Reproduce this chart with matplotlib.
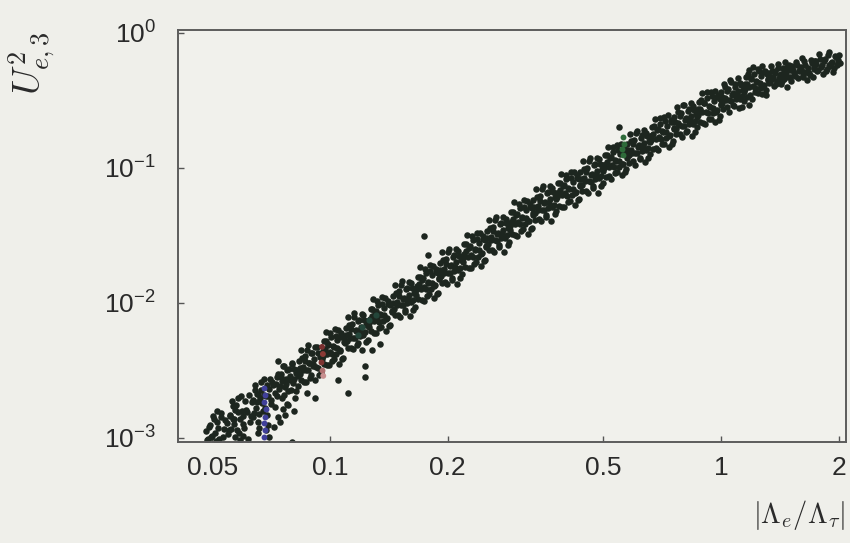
import matplotlib.pyplot as plt

plt.rcParams['font.family'] = ['Liberation Sans', 'DejaVu Sans']

# scan points: |Lambda_e/Lambda_tau| vs U_e3^2 (one line per slice along the band)
lam_ratio = [
    0.0482, 0.0488, 0.0495, 0.0501, 0.0507, 0.0512, 0.0519, 0.0526, 0.0533, 0.0545,
    0.0552, 0.0556, 0.0561, 0.0566, 0.0570, 0.0575, 0.0581, 0.0587, 0.0593, 0.0598, 0.0604, 0.0611, 0.0618, 0.0626,
    0.0633, 0.0637, 0.0642, 0.0647, 0.0652, 0.0657, 0.0663, 0.0668, 0.0674, 0.0679, 0.0686, 0.0692, 0.0699, 0.0706, 0.0712, 0.0719, 0.0655, 0.0688, 0.0701,
    0.0726, 0.0731, 0.0737, 0.0742, 0.0748, 0.0754, 0.0759, 0.0765, 0.0771, 0.0777, 0.0783, 0.0789, 0.0795, 0.0801, 0.0808, 0.0815, 0.0821, 0.0829, 0.0745, 0.0768, 0.0802, 0.0811,
    0.0835, 0.0841, 0.0846, 0.0852, 0.0858, 0.0865, 0.0871, 0.0877, 0.0884, 0.0890, 0.0897, 0.0904, 0.0911, 0.0918, 0.0926, 0.0933, 0.0941, 0.0950, 0.0915, 0.0872,
    0.0958, 0.0964, 0.0971, 0.0978, 0.0985, 0.0992, 0.0999, 0.1007, 0.1015, 0.1022, 0.1030, 0.1038, 0.1046, 0.1054, 0.1063, 0.1071, 0.1080, 0.1090, 0.1110, 0.1050,
    0.1099, 0.1106, 0.1114, 0.1122, 0.1130, 0.1139, 0.1147, 0.1156, 0.1165, 0.1173, 0.1182, 0.1191, 0.1201, 0.1210, 0.1219, 0.1229, 0.1240, 0.1252, 0.1230, 0.1228,
    0.1262, 0.1271, 0.1280, 0.1290, 0.1299, 0.1309, 0.1318, 0.1328, 0.1338, 0.1348, 0.1358, 0.1368, 0.1379, 0.1390, 0.1401, 0.1412, 0.1423, 0.1438, 0.1280, 0.1340,
    0.1449, 0.1460, 0.1471, 0.1482, 0.1494, 0.1505, 0.1517, 0.1529, 0.1541, 0.1553, 0.1565, 0.1577, 0.1590, 0.1602, 0.1615, 0.1628, 0.1641, 0.1655,
    0.1664, 0.1677, 0.1690, 0.1703, 0.1716, 0.1730, 0.1743, 0.1757, 0.1771, 0.1785, 0.1799, 0.1813, 0.1828, 0.1843, 0.1858, 0.1873, 0.1888, 0.1900, 0.1740, 0.1780,
    0.1909, 0.1924, 0.1939, 0.1954, 0.1970, 0.1985, 0.2001, 0.2017, 0.2033, 0.2049, 0.2066, 0.2082, 0.2099, 0.2116, 0.2133, 0.2150, 0.2167, 0.2183,
    0.2192, 0.2209, 0.2227, 0.2245, 0.2263, 0.2281, 0.2299, 0.2318, 0.2336, 0.2355, 0.2374, 0.2393, 0.2412, 0.2431, 0.2451, 0.2471, 0.2490, 0.2507,
    0.2516, 0.2536, 0.2556, 0.2577, 0.2597, 0.2618, 0.2639, 0.2660, 0.2682, 0.2703, 0.2725, 0.2747, 0.2769, 0.2791, 0.2814, 0.2836, 0.2859, 0.2878,
    0.2889, 0.2912, 0.2935, 0.2959, 0.2983, 0.3007, 0.3031, 0.3055, 0.3080, 0.3104, 0.3129, 0.3154, 0.3180, 0.3205, 0.3231, 0.3257, 0.3283, 0.3305,
    0.3316, 0.3343, 0.3370, 0.3397, 0.3424, 0.3452, 0.3480, 0.3508, 0.3536, 0.3565, 0.3593, 0.3622, 0.3651, 0.3681, 0.3710, 0.3740, 0.3770, 0.3795,
    0.3807, 0.3838, 0.3869, 0.3900, 0.3931, 0.3963, 0.3995, 0.4027, 0.4060, 0.4093, 0.4126, 0.4159, 0.4192, 0.4226, 0.4260, 0.4294, 0.4329, 0.4358,
    0.4371, 0.4406, 0.4442, 0.4477, 0.4514, 0.4550, 0.4587, 0.4624, 0.4661, 0.4699, 0.4737, 0.4775, 0.4814, 0.4853, 0.4892, 0.4931, 0.4971, 0.5004,
    0.5018, 0.5058, 0.5099, 0.5140, 0.5181, 0.5223, 0.5265, 0.5308, 0.5351, 0.5394, 0.5438, 0.5482, 0.5526, 0.5571, 0.5616, 0.5662, 0.5708, 0.5746, 0.548,
    0.5762, 0.5808, 0.5855, 0.5902, 0.5950, 0.5998, 0.6047, 0.6096, 0.6145, 0.6195, 0.6245, 0.6296, 0.6347, 0.6398, 0.6450, 0.6502, 0.6555, 0.6598,
    0.6615, 0.6669, 0.6723, 0.6777, 0.6832, 0.6887, 0.6943, 0.6999, 0.7056, 0.7113, 0.7170, 0.7228, 0.7287, 0.7346, 0.7405, 0.7465, 0.7525, 0.7576,
    0.7595, 0.7656, 0.7718, 0.7781, 0.7844, 0.7907, 0.7971, 0.8036, 0.8101, 0.8166, 0.8232, 0.8299, 0.8366, 0.8434, 0.8502, 0.8571, 0.8640, 0.8699,
    0.8721, 0.8791, 0.8862, 0.8934, 0.9006, 0.9079, 0.9153, 0.9227, 0.9301, 0.9377, 0.9453, 0.9529, 0.9606, 0.9684, 0.9762, 0.9841, 0.9921, 0.9988,
    1.0013, 1.0094, 1.0176, 1.0258, 1.0341, 1.0425, 1.0509, 1.0594, 1.0680, 1.0766, 1.0853, 1.0941, 1.1030, 1.1119, 1.1209, 1.1300, 1.1391, 1.1468,
    1.1495, 1.1588, 1.1682, 1.1776, 1.1871, 1.1967, 1.2064, 1.2161, 1.2260, 1.2359, 1.2459, 1.2560, 1.2661, 1.2764, 1.2867, 1.2971, 1.3076, 1.3165, 1.18,
    1.3196, 1.3312, 1.3429, 1.3547, 1.3666, 1.3786, 1.3907, 1.4029, 1.4152, 1.4276, 1.4401, 1.4528, 1.4655, 1.4784, 1.4914, 1.5045, 1.46,
    1.5188, 1.5362, 1.5538, 1.5716, 1.5896, 1.6078, 1.6262, 1.6448, 1.6636, 1.6826, 1.7018, 1.7212, 1.7330,
    1.7432, 1.7635, 1.7840, 1.8048, 1.8258, 1.8470, 1.8685, 1.8903, 1.9123, 1.9345, 1.9570, 1.9798, 1.9970, 2.0120,
]
u_e3_sq = [
    0.00112, 0.00098, 0.00125, 0.00104, 0.00137, 0.00095, 0.00118, 0.00142, 0.00101, 0.00128,
    0.00115, 0.00149, 0.00188, 0.00139, 0.00127, 0.00176, 0.00156, 0.00108, 0.00203, 0.00145, 0.00119, 0.00162, 0.00098, 0.00131,
    0.00185, 0.00142, 0.00247, 0.00168, 0.00212, 0.00131, 0.00196, 0.00226, 0.00158, 0.00274, 0.00204, 0.00149, 0.00231, 0.00178, 0.00258, 0.00121, 0.00108, 0.00115, 0.00102,
    0.00216, 0.00283, 0.00371, 0.00232, 0.00295, 0.00264, 0.00338, 0.00207, 0.00251, 0.00318, 0.00174, 0.00289, 0.00226, 0.00352, 0.00275, 0.00198, 0.00302, 0.00241, 0.00131, 0.00147, 0.00094, 0.00158,
    0.00372, 0.00298, 0.00451, 0.00336, 0.00259, 0.00404, 0.00317, 0.00489, 0.00356, 0.00276, 0.00423, 0.00341, 0.00385, 0.00268, 0.00468, 0.00329, 0.00395, 0.00305, 0.00197, 0.00215,
    0.00402, 0.00526, 0.00459, 0.00612, 0.00348, 0.00498, 0.00436, 0.00557, 0.00371, 0.00469, 0.00642, 0.00418, 0.00531, 0.00355, 0.00447, 0.00594, 0.00389, 0.00512, 0.00215, 0.00268,
    0.00652, 0.00519, 0.00788, 0.00588, 0.00462, 0.00701, 0.00553, 0.00846, 0.00617, 0.00486, 0.00735, 0.00572, 0.00663, 0.00451, 0.00812, 0.00604, 0.00689, 0.00531, 0.00342, 0.00281,
    0.00712, 0.00904, 0.00795, 0.01061, 0.00602, 0.00873, 0.00754, 0.00962, 0.00648, 0.00812, 0.01096, 0.00731, 0.00921, 0.00621, 0.00775, 0.01032, 0.00687, 0.00858, 0.00450, 0.00500,
    0.01131, 0.00905, 0.01362, 0.01022, 0.00819, 0.01214, 0.00963, 0.01441, 0.01071, 0.00854, 0.01268, 0.00994, 0.01152, 0.00793, 0.01395, 0.01048, 0.01189, 0.00938,
    0.01237, 0.01567, 0.01382, 0.01838, 0.01046, 0.01519, 0.01311, 0.01671, 0.01126, 0.01412, 0.01899, 0.01269, 0.01601, 0.01079, 0.01347, 0.01795, 0.01193, 0.01491, 0.0313, 0.0226,
    0.01965, 0.01572, 0.02366, 0.01775, 0.01422, 0.02110, 0.01672, 0.02503, 0.01861, 0.01484, 0.02202, 0.01728, 0.02002, 0.01379, 0.02422, 0.01821, 0.02065, 0.01630,
    0.02149, 0.02722, 0.02401, 0.03193, 0.01818, 0.02639, 0.02278, 0.02903, 0.01956, 0.02453, 0.03300, 0.02204, 0.02782, 0.01875, 0.02340, 0.03119, 0.02073, 0.02591,
    0.03416, 0.02733, 0.04112, 0.03085, 0.02472, 0.03667, 0.02906, 0.04350, 0.03234, 0.02579, 0.03827, 0.03003, 0.03479, 0.02396, 0.04209, 0.03165, 0.03588, 0.02833,
    0.03734, 0.04730, 0.04172, 0.05549, 0.03159, 0.04586, 0.03959, 0.05045, 0.03400, 0.04263, 0.05734, 0.03831, 0.04834, 0.03259, 0.04067, 0.05421, 0.03603, 0.04503,
    0.05763, 0.04611, 0.06938, 0.05205, 0.04171, 0.06187, 0.04903, 0.07339, 0.05456, 0.04352, 0.06457, 0.05067, 0.05869, 0.04043, 0.07102, 0.05339, 0.06054, 0.04779,
    0.06092, 0.07717, 0.06806, 0.09053, 0.05154, 0.07481, 0.06459, 0.08231, 0.05548, 0.06955, 0.09355, 0.06250, 0.07887, 0.05317, 0.06635, 0.08844, 0.05878, 0.07346,
    0.09352, 0.07483, 0.1126, 0.08447, 0.06769, 0.1004, 0.07957, 0.1191, 0.08854, 0.07063, 0.1048, 0.08223, 0.09524, 0.06561, 0.1153, 0.08665, 0.09825, 0.07756,
    0.0996, 0.1236, 0.1099, 0.1428, 0.0863, 0.1203, 0.1047, 0.1312, 0.0918, 0.1127, 0.1463, 0.1019, 0.1259, 0.0884, 0.1071, 0.1392, 0.0972, 0.1186, 0.200,
    0.1510, 0.1237, 0.1772, 0.1363, 0.1125, 0.1603, 0.1297, 0.1862, 0.1434, 0.1169, 0.1670, 0.1333, 0.1531, 0.1099, 0.1818, 0.1399, 0.1573, 0.1268,
    0.1615, 0.2003, 0.1782, 0.2315, 0.1400, 0.1950, 0.1698, 0.2127, 0.1489, 0.1826, 0.2371, 0.1652, 0.2041, 0.1432, 0.1736, 0.2257, 0.1575, 0.1923,
    0.2383, 0.1951, 0.2796, 0.2150, 0.1774, 0.2528, 0.2046, 0.2937, 0.2262, 0.1844, 0.2635, 0.2103, 0.2415, 0.1734, 0.2868, 0.2207, 0.2481, 0.2000,
    0.2478, 0.3074, 0.2735, 0.3554, 0.2149, 0.2993, 0.2606, 0.3265, 0.2285, 0.2803, 0.3640, 0.2535, 0.3132, 0.2198, 0.2664, 0.3465, 0.2418, 0.2953,
    0.3637, 0.3037, 0.4171, 0.3287, 0.2833, 0.3840, 0.3151, 0.4330, 0.3475, 0.2920, 0.3985, 0.3245, 0.3687, 0.2781, 0.4245, 0.3389, 0.3772, 0.3103,
    0.3844, 0.4673, 0.4198, 0.5259, 0.3445, 0.4567, 0.4020, 0.4937, 0.3617, 0.4305, 0.5364, 0.3903, 0.4757, 0.3510, 0.4072, 0.5167, 0.3762, 0.4506, 0.293,
    0.5031, 0.4268, 0.5643, 0.4560, 0.4011, 0.5238, 0.4406, 0.5862, 0.4850, 0.4142, 0.5467, 0.4508, 0.5102, 0.3955, 0.5745, 0.4712, 0.61,
    0.5655, 0.5002, 0.6059, 0.4594, 0.5381, 0.6497, 0.4889, 0.5807, 0.4449, 0.5049, 0.6251, 0.4731, 0.5578,
    0.6184, 0.5246, 0.6924, 0.5602, 0.4954, 0.6437, 0.5430, 0.7183, 0.5970, 0.5106, 0.6705, 0.5803, 0.6286, 0.6012,
]

# second batch of scan points filling the same band
lam_ratio_b = [
    0.0485, 0.0490, 0.0497, 0.0503, 0.0509, 0.0515, 0.0521, 0.0528, 0.0536, 0.0541, 0.0548, 0.0514,
    0.0554, 0.0559, 0.0564, 0.0568, 0.0573, 0.0578, 0.0584, 0.0590, 0.0596, 0.0601, 0.0608, 0.0615, 0.0622, 0.0629, 0.0572, 0.0601, 0.0588,
    0.0635, 0.0640, 0.0645, 0.0650, 0.0655, 0.0660, 0.0666, 0.0671, 0.0677, 0.0683, 0.0689, 0.0696, 0.0703, 0.0709, 0.0716, 0.0722, 0.0660, 0.0695,
    0.0728, 0.0734, 0.0739, 0.0745, 0.0751, 0.0756, 0.0762, 0.0768, 0.0774, 0.0780, 0.0786, 0.0792, 0.0798, 0.0805, 0.0812, 0.0818, 0.0825, 0.0831, 0.0735, 0.0757, 0.0778,
    0.0838, 0.0843, 0.0849, 0.0855, 0.0862, 0.0868, 0.0874, 0.0881, 0.0887, 0.0894, 0.0901, 0.0908, 0.0915, 0.0922, 0.0930, 0.0937, 0.0945, 0.0953,
    0.0961, 0.0968, 0.0975, 0.0982, 0.0989, 0.0996, 0.1003, 0.1011, 0.1019, 0.1026, 0.1034, 0.1042, 0.1050, 0.1059, 0.1067, 0.1076, 0.1085, 0.1093,
    0.1102, 0.1110, 0.1118, 0.1126, 0.1135, 0.1143, 0.1152, 0.1160, 0.1169, 0.1178, 0.1187, 0.1196, 0.1205, 0.1215, 0.1224, 0.1234, 0.1245, 0.1256,
    0.1266, 0.1275, 0.1285, 0.1294, 0.1304, 0.1313, 0.1323, 0.1333, 0.1343, 0.1353, 0.1363, 0.1374, 0.1384, 0.1395, 0.1406, 0.1417, 0.1429, 0.1441,
    0.1454, 0.1465, 0.1476, 0.1488, 0.1499, 0.1511, 0.1523, 0.1535, 0.1547, 0.1559, 0.1571, 0.1583, 0.1596, 0.1608, 0.1621, 0.1634, 0.1648, 0.1658,
    0.1670, 0.1683, 0.1696, 0.1709, 0.1723, 0.1736, 0.1750, 0.1764, 0.1778, 0.1792, 0.1806, 0.1820, 0.1835, 0.1850, 0.1865, 0.1880, 0.1894, 0.1903,
    0.1916, 0.1931, 0.1946, 0.1962, 0.1977, 0.1993, 0.2009, 0.2025, 0.2041, 0.2057, 0.2074, 0.2090, 0.2107, 0.2124, 0.2141, 0.2158, 0.2175, 0.2186,
    0.2200, 0.2218, 0.2236, 0.2254, 0.2272, 0.2290, 0.2308, 0.2327, 0.2345, 0.2364, 0.2383, 0.2402, 0.2421, 0.2441, 0.2461, 0.2480, 0.2498, 0.2510,
    0.2526, 0.2546, 0.2566, 0.2587, 0.2607, 0.2628, 0.2649, 0.2671, 0.2692, 0.2714, 0.2736, 0.2758, 0.2780, 0.2802, 0.2825, 0.2847, 0.2868, 0.2881,
    0.2900, 0.2923, 0.2947, 0.2971, 0.2995, 0.3019, 0.3043, 0.3067, 0.3092, 0.3117, 0.3142, 0.3167, 0.3192, 0.3218, 0.3244, 0.3270, 0.3294, 0.3308,
    0.3329, 0.3356, 0.3383, 0.3410, 0.3438, 0.3466, 0.3494, 0.3522, 0.3550, 0.3579, 0.3608, 0.3637, 0.3666, 0.3695, 0.3725, 0.3755, 0.3782, 0.3798,
    0.3822, 0.3853, 0.3884, 0.3915, 0.3947, 0.3979, 0.4011, 0.4043, 0.4076, 0.4109, 0.4142, 0.4175, 0.4209, 0.4243, 0.4277, 0.4311, 0.4343, 0.4362,
    0.4388, 0.4424, 0.4459, 0.4495, 0.4532, 0.4568, 0.4605, 0.4642, 0.4680, 0.4718, 0.4756, 0.4794, 0.4833, 0.4872, 0.4911, 0.4951, 0.4988, 0.5008,
    0.5038, 0.5078, 0.5119, 0.5160, 0.5202, 0.5244, 0.5286, 0.5329, 0.5372, 0.5416, 0.5460, 0.5504, 0.5548, 0.5593, 0.5639, 0.5685, 0.5727, 0.5750,
    0.5785, 0.5831, 0.5878, 0.5926, 0.5974, 0.6022, 0.6071, 0.6120, 0.6170, 0.6220, 0.6270, 0.6321, 0.6372, 0.6424, 0.6476, 0.6528, 0.6577, 0.6603,
    0.6642, 0.6696, 0.6750, 0.6805, 0.6860, 0.6915, 0.6971, 0.7028, 0.7085, 0.7142, 0.7199, 0.7258, 0.7317, 0.7376, 0.7435, 0.7495, 0.7551, 0.7581,
    0.7626, 0.7687, 0.7750, 0.7812, 0.7875, 0.7939, 0.8003, 0.8068, 0.8133, 0.8199, 0.8266, 0.8332, 0.8400, 0.8468, 0.8536, 0.8605, 0.8670, 0.8705,
    0.8756, 0.8827, 0.8898, 0.8970, 0.9043, 0.9116, 0.9190, 0.9264, 0.9339, 0.9415, 0.9491, 0.9568, 0.9645, 0.9723, 0.9802, 0.9881, 0.9955, 0.9995,
    1.0054, 1.0135, 1.0217, 1.0300, 1.0383, 1.0467, 1.0552, 1.0637, 1.0723, 1.0810, 1.0897, 1.0986, 1.1074, 1.1164, 1.1254, 1.1346, 1.1430, 1.1480,
    1.1541, 1.1635, 1.1729, 1.1824, 1.1919, 1.2016, 1.2113, 1.2211, 1.2310, 1.2409, 1.2510, 1.2611, 1.2713, 1.2816, 1.2919, 1.3024, 1.3120, 1.3180,
    1.3254, 1.3370, 1.3488, 1.3606, 1.3726, 1.3846, 1.3968, 1.4090, 1.4214, 1.4338, 1.4464, 1.4591, 1.4719, 1.4849, 1.4979, 1.5100,
    1.5275, 1.5450, 1.5627, 1.5806, 1.5987, 1.6170, 1.6355, 1.6542, 1.6731, 1.6922, 1.7115, 1.7271, 1.7360, 1.6100,
    1.7533, 1.7737, 1.7944, 1.8153, 1.8364, 1.8577, 1.8794, 1.9013, 1.9234, 1.9457, 1.9684, 1.9884, 2.0050, 1.8900,
]
u_e3_sq_b = [
    0.00096, 0.00121, 0.00102, 0.00146, 0.00109, 0.00131, 0.00099, 0.00152, 0.00116, 0.00135, 0.00107, 0.00159,
    0.00145, 0.00117, 0.00172, 0.00139, 0.00162, 0.00114, 0.00197, 0.00138, 0.00158, 0.00127, 0.00187, 0.00155, 0.00207, 0.00146, 0.00101, 0.00104, 0.00096,
    0.00191, 0.00154, 0.00226, 0.00183, 0.00213, 0.00150, 0.00259, 0.00182, 0.00208, 0.00168, 0.00246, 0.00204, 0.00273, 0.00192, 0.00245, 0.00169, 0.00118, 0.00125,
    0.00252, 0.00203, 0.00298, 0.00241, 0.00281, 0.00198, 0.00341, 0.00240, 0.00274, 0.00221, 0.00325, 0.00268, 0.00360, 0.00253, 0.00324, 0.00222, 0.00319, 0.00289, 0.00142, 0.00165, 0.00178,
    0.00332, 0.00268, 0.00393, 0.00318, 0.00371, 0.00261, 0.00450, 0.00317, 0.00361, 0.00292, 0.00429, 0.00354, 0.00475, 0.00334, 0.00427, 0.00294, 0.00421, 0.00382,
    0.00438, 0.00353, 0.00519, 0.00419, 0.00490, 0.00344, 0.00594, 0.00418, 0.00476, 0.00385, 0.00565, 0.00467, 0.00626, 0.00440, 0.00563, 0.00387, 0.00556, 0.00504,
    0.00578, 0.00466, 0.00684, 0.00553, 0.00645, 0.00453, 0.00783, 0.00551, 0.00628, 0.00507, 0.00745, 0.00616, 0.00825, 0.00581, 0.00742, 0.00510, 0.00732, 0.00664,
    0.00761, 0.00614, 0.00901, 0.00728, 0.00850, 0.00598, 0.01032, 0.00726, 0.00828, 0.00668, 0.00982, 0.00811, 0.01087, 0.00765, 0.00978, 0.00672, 0.00965, 0.00875,
    0.01003, 0.00809, 0.01188, 0.00961, 0.01121, 0.00788, 0.01360, 0.00957, 0.01091, 0.00881, 0.01295, 0.01070, 0.01433, 0.01009, 0.01290, 0.00887, 0.01272, 0.01153,
    0.01323, 0.01067, 0.01566, 0.01266, 0.01478, 0.01039, 0.01793, 0.01262, 0.01438, 0.01161, 0.01707, 0.01410, 0.01889, 0.01330, 0.01700, 0.01169, 0.01677, 0.01520,
    0.01743, 0.01406, 0.02063, 0.01668, 0.01948, 0.01369, 0.02363, 0.01663, 0.01896, 0.01531, 0.02249, 0.01858, 0.02489, 0.01752, 0.02240, 0.01540, 0.02210, 0.02004,
    0.02298, 0.01853, 0.02720, 0.02200, 0.02568, 0.01804, 0.03115, 0.02192, 0.02499, 0.02018, 0.02966, 0.02450, 0.03282, 0.02310, 0.02953, 0.02030, 0.02914, 0.02642,
    0.03029, 0.02443, 0.03586, 0.02899, 0.03385, 0.02378, 0.04106, 0.02890, 0.03294, 0.02660, 0.03909, 0.03230, 0.04327, 0.03045, 0.03893, 0.02676, 0.03841, 0.03482,
    0.03993, 0.03221, 0.04727, 0.03822, 0.04462, 0.03136, 0.05414, 0.03810, 0.04343, 0.03507, 0.05153, 0.04257, 0.05704, 0.04014, 0.05132, 0.03528, 0.05064, 0.04590,
    0.05111, 0.04122, 0.06050, 0.04892, 0.05711, 0.04013, 0.06929, 0.04876, 0.05558, 0.04488, 0.06596, 0.05449, 0.07300, 0.05138, 0.06568, 0.04515, 0.06481, 0.05875,
    0.06515, 0.05255, 0.07712, 0.06236, 0.07280, 0.05116, 0.08832, 0.06215, 0.07085, 0.05721, 0.08408, 0.06946, 0.09306, 0.06549, 0.08373, 0.05756, 0.08262, 0.07489,
    0.08293, 0.06689, 0.09817, 0.07939, 0.09268, 0.06512, 0.1124, 0.07912, 0.09019, 0.07283, 0.1070, 0.08842, 0.1185, 0.08337, 0.1066, 0.07327, 0.1052, 0.09533,
    0.1057, 0.0852, 0.1251, 0.1012, 0.1181, 0.0830, 0.1433, 0.1008, 0.1149, 0.0928, 0.1364, 0.1127, 0.1509, 0.1062, 0.1358, 0.0934, 0.1340, 0.1215,
    0.1345, 0.1085, 0.1592, 0.1288, 0.1503, 0.1056, 0.1824, 0.1283, 0.1463, 0.1181, 0.1736, 0.1434, 0.1921, 0.1352, 0.1729, 0.1188, 0.1706, 0.1546,
    0.1713, 0.1382, 0.2028, 0.1640, 0.1914, 0.1345, 0.2322, 0.1634, 0.1863, 0.1504, 0.2211, 0.1826, 0.2447, 0.1722, 0.2201, 0.1513, 0.2172, 0.1969,
    0.2194, 0.1766, 0.2584, 0.2079, 0.2419, 0.1693, 0.2915, 0.2043, 0.2319, 0.1868, 0.2729, 0.2247, 0.2999, 0.2102, 0.2675, 0.1832, 0.2618, 0.2360,
    0.2719, 0.2188, 0.3202, 0.2576, 0.2997, 0.2098, 0.3612, 0.2531, 0.2874, 0.2315, 0.3382, 0.2784, 0.3716, 0.2604, 0.3315, 0.2270, 0.3244, 0.2924,
    0.3368, 0.2710, 0.3966, 0.3190, 0.3712, 0.2599, 0.4474, 0.3135, 0.3559, 0.2867, 0.4189, 0.3448, 0.4603, 0.3225, 0.4105, 0.2811, 0.4018, 0.3622,
    0.4172, 0.3357, 0.4913, 0.3952, 0.4599, 0.3220, 0.5543, 0.3883, 0.4409, 0.3551, 0.5189, 0.4271, 0.5702, 0.3995, 0.5086, 0.3482, 0.4978, 0.4487,
    0.4792, 0.4300, 0.5201, 0.4665, 0.5031, 0.4208, 0.5523, 0.4622, 0.4924, 0.4422, 0.5342, 0.4846, 0.5601, 0.4690, 0.5289, 0.4378,
    0.5314, 0.4768, 0.5767, 0.5173, 0.5578, 0.4666, 0.6124, 0.5125, 0.5459, 0.4903, 0.5924, 0.5373, 0.6210, 0.5200,
    0.5894, 0.5289, 0.6397, 0.5738, 0.6188, 0.5175, 0.6793, 0.5685, 0.6056, 0.5439, 0.6571, 0.5960, 0.6889, 0.5770,
]

# highlighted points
blue_x = [0.0680, 0.0684, 0.0678, 0.0686, 0.0681, 0.0677, 0.0683, 0.0679]
blue_y = [0.00236, 0.00207, 0.00184, 0.00163, 0.00144, 0.00128, 0.00114, 0.00102]
red_x = [0.0955, 0.0960, 0.0952, 0.0958, 0.0962]
red_y = [0.00472, 0.00418, 0.00362, 0.00315, 0.00288]
red_c = ['#7a3030', '#8a3a36', '#7e3432', '#b07070', '#c89090']
green_x = [0.561, 0.566, 0.558, 0.563]
green_y = [0.168, 0.151, 0.137, 0.124]
teal_x = [0.121, 0.126, 0.131, 0.118]
teal_y = [0.0066, 0.0075, 0.0081, 0.0058]

xticks = [0.05, 0.1, 0.2, 0.5, 1, 2]
xtick_labels = ['0.05', '0.1', '0.2', '0.5', '1', '2']
yticks = [1e-3, 1e-2, 1e-1, 1]
ytick_labels = [r'$\mathregular{10^{-3}}$', r'$\mathregular{10^{-2}}$',
                r'$\mathregular{10^{-1}}$', r'$\mathregular{10^{0}}$']

fig = plt.figure(figsize=(8.5, 5.43), dpi=100, facecolor='#efefea')
ax = fig.add_axes([0.2094, 0.186, 0.786, 0.759])
ax.set_facecolor('#f1f1ec')

dot = '#1d261f'
ax.scatter(lam_ratio, u_e3_sq, s=22, c=dot, linewidths=0, zorder=2)
ax.scatter(lam_ratio_b, u_e3_sq_b, s=22, c=dot, linewidths=0, zorder=2)
ax.scatter(teal_x, teal_y, s=20, c='#24463a', linewidths=0, zorder=3)
ax.scatter(blue_x, blue_y, s=18, c='#40409a', linewidths=0, zorder=3)
ax.scatter(red_x, red_y, s=18, c=red_c, linewidths=0, zorder=3)
ax.scatter(green_x, green_y, s=18, c='#2e6b3a', linewidths=0, zorder=3)

ax.set_xscale('log')
ax.set_yscale('log')
ax.set_xlim(0.0409, 2.09)
ax.set_ylim(9.33e-4, 1.05)
ax.set_xticks(xticks)
ax.set_xticklabels(xtick_labels)
ax.set_yticks(yticks)
ax.set_yticklabels(ytick_labels)
ax.minorticks_off()

ax.tick_params(direction='in', length=4, width=1, colors='#555555',
               labelcolor='#2a2a2a', labelsize=19)
ax.tick_params(axis='x', pad=10)
ax.tick_params(axis='y', pad=16)
for sp in ax.spines.values():
    sp.set_color('#5c5c5c')
    sp.set_linewidth(1.4)

fig.text(0.038, 0.884, r'$U^2_{e,3}$', rotation=90, ha='center', va='center',
         fontsize=27, math_fontfamily='cm', color='#2a2a2a')
fig.text(0.940, 0.052, r'$|\Lambda_e/\Lambda_\tau|$', ha='center', va='center',
         fontsize=20.5, math_fontfamily='cm', color='#2a2a2a')

fig.savefig('out.png', dpi=100, facecolor=fig.get_facecolor())
